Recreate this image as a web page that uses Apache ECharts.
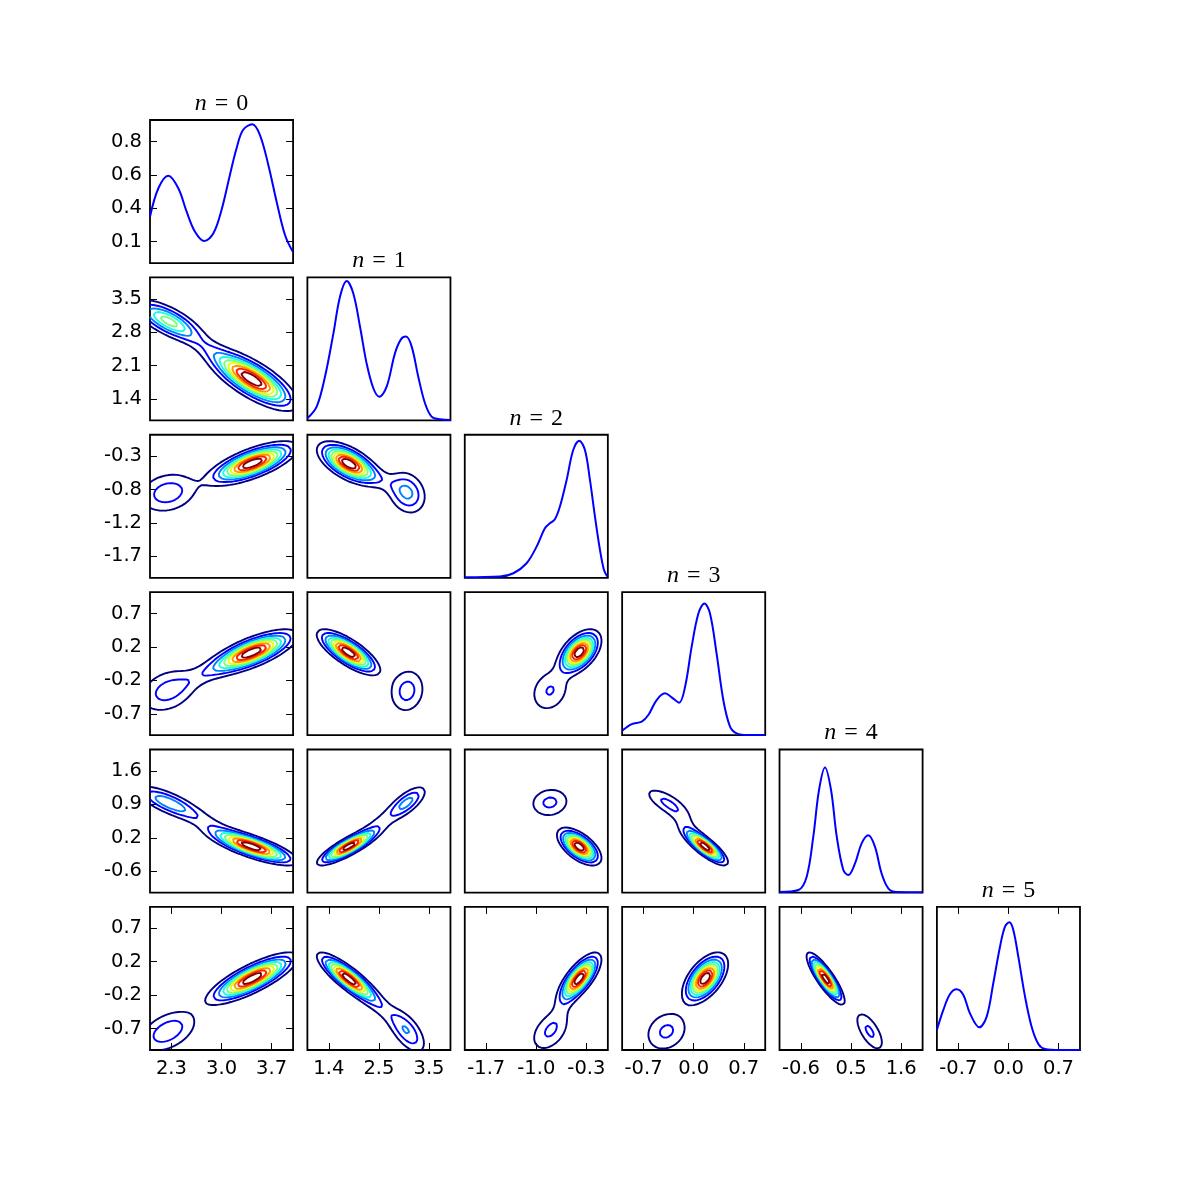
<!DOCTYPE html>
<html><head><meta charset="utf-8">
<script src="https://cdn.jsdelivr.net/npm/echarts@6/dist/echarts.min.js"></script>
<style>html,body{margin:0;padding:0;background:#fff}#c{width:1200px;height:1200px}</style>
</head><body><div id="c"></div>
<script>
// ---------------- data ----------------
const titles = ['0', '1', '2', '3', '4', '5'];
const varMin = [2.0, 0.97, -2.0, -1.0, -1.02, -1.0];
const varMax = [4.0, 3.97, 0.0, 1.0, 2.06, 1.0];
const xTickLabels = [['2.3','3.0','3.7'], ['1.4','2.5','3.5'], ['-1.7','-1.0','-0.3'], ['-0.7','0.0','0.7'], ['-0.6','0.5','1.6'], ['-0.7','0.0','0.7']];
const yTickLabels = [['0.1','0.4','0.6','0.8'], ['1.4','2.1','2.8','3.5'], ['-1.7','-1.2','-0.8','-0.3'], ['-0.7','-0.2','0.2','0.7'], ['-0.6','0.2','0.9','1.6'], ['-0.7','-0.2','0.2','0.7']];
const xTickFrac = [0.15, 0.5, 0.85];
const yTickFrac = [0.15, 0.38333, 0.61667, 0.85];

// diagonal (1D) density curves
const diagX0 = [2.0, 2.117, 2.256, 2.396, 2.512, 2.629, 2.76, 2.886, 3.0, 3.117, 3.21, 3.30, 3.43, 3.537, 3.654, 3.77, 3.887, 3.995];
const diagY0 = [0.324, 0.523, 0.611, 0.523, 0.359, 0.219, 0.154, 0.208, 0.371, 0.616, 0.802, 0.93, 0.97, 0.895, 0.686, 0.429, 0.196, 0.08];
const diagX1 = [0.97, 1.165, 1.339, 1.516, 1.654, 1.795, 1.933, 2.074, 2.212, 2.353, 2.479, 2.632, 2.806, 2.932, 3.037, 3.157, 3.295, 3.436, 3.574, 3.751, 3.97];
const diagY1 = [0.015, 0.097, 0.306, 0.609, 0.865, 0.974, 0.888, 0.655, 0.399, 0.225, 0.166, 0.236, 0.469, 0.567, 0.586, 0.516, 0.306, 0.12, 0.027, 0.008, 0.003];
const diagX2 = [-2.0, -1.506, -1.32, -1.136, -0.996, -0.88, -0.81, -0.74, -0.67, -0.576, -0.484, -0.40, -0.32, -0.25, -0.18, -0.11, -0.054, -0.008];
const diagY2 = [0.004, 0.009, 0.032, 0.102, 0.218, 0.346, 0.381, 0.409, 0.498, 0.684, 0.893, 0.959, 0.893, 0.684, 0.428, 0.195, 0.055, 0.009];
const diagX3 = [-1.0, -0.866, -0.726, -0.634, -0.518, -0.4, -0.308, -0.204, -0.12, -0.028, 0.066, 0.15, 0.228, 0.32, 0.414, 0.508, 0.6, 0.764, 1.0];
const diagY3 = [0.032, 0.078, 0.095, 0.141, 0.246, 0.293, 0.265, 0.227, 0.339, 0.619, 0.851, 0.921, 0.851, 0.572, 0.246, 0.06, 0.013, 0.001, 0.001];
const diagX4 = [-1.02, -0.613, -0.435, -0.293, -0.17, -0.041, 0.089, 0.212, 0.354, 0.461, 0.606, 0.748, 0.893, 1.034, 1.176, 1.321, 1.499, 2.06];
const diagY4 = [0.004, 0.018, 0.111, 0.391, 0.717, 0.875, 0.717, 0.391, 0.158, 0.123, 0.205, 0.344, 0.4, 0.321, 0.135, 0.03, 0.004, 0.002];
const diagX5 = [-1.0, -0.91, -0.816, -0.724, -0.63, -0.538, -0.406, -0.304, -0.212, -0.118, -0.048, 0.012, 0.068, 0.138, 0.232, 0.324, 0.418, 0.512, 0.72, 1.0];
const diagY5 = [0.14, 0.28, 0.391, 0.424, 0.384, 0.256, 0.158, 0.233, 0.466, 0.722, 0.862, 0.892, 0.839, 0.652, 0.373, 0.163, 0.042, 0.007, 0, 0];

// two-component model of the 2D densities
const mixWeights = [0.72, 0.28];
const meanMain = [3.43, 1.83, -0.40, 0.16, -0.03, 0.00];
const meanSec  = [2.25, 3.06, -0.81, -0.38, 0.92, -0.74];
const sdMain = [0.30, 0.31, 0.145, 0.15, 0.19, 0.17];
const sdSec  = [0.26, 0.24, 0.18, 0.20, 0.21, 0.19];
// pairs: (0,1)(0,2)(0,3)(0,4)(0,5)(1,2)(1,3)(1,4)(1,5)(2,3)(2,4)(2,5)(3,4)(3,5)(4,5)
const corrMain = [-0.75, 0.70, 0.72, -0.78, 0.80, -0.60, -0.76, 0.85, -0.85, 0.50, -0.60, 0.72, -0.82, 0.55, -0.85];
const corrSec  = [-0.70, 0.20, 0.30, -0.74, 0.45, -0.20, 0.10, 0.70, -0.60, 0.20, 0.10, 0.40, -0.70, 0.20, -0.65];
// thin density ridge joining the two clusters (peak, relative to the main peak)
const bridgeLevel = [0.13, 0.0, 0.12, 0.13, 0.0, 0.11, 0.0, 0.13, 0.13, 0.0, 0.0, 0.07, 0.12, 0.0, 0.0];
const levelFractions = [0.1, 0.2, 0.3, 0.4, 0.5, 0.6, 0.7, 0.8, 0.9];

// ---------------- helpers ----------------
const diagX = [diagX0, diagX1, diagX2, diagX3, diagX4, diagX5];
const diagY = [diagY0, diagY1, diagY2, diagY3, diagY4, diagY5];
function pairIndex(i, j) { let k = 0; for (let a = 0; a < 6; a++) for (let b = a + 1; b < 6; b++) { if (a === i && b === j) return k; k++; } return -1; }
function g2(x, y, mx, my, sx, sy, r) {
  const dx = (x - mx) / sx, dy = (y - my) / sy;
  const q = (dx * dx - 2 * r * dx * dy + dy * dy) / (1 - r * r);
  return Math.exp(-0.5 * q) / (2 * Math.PI * sx * sy * Math.sqrt(1 - r * r));
}
function jet(t) {
  function seg(pts) { for (let k = 1; k < pts.length; k++) { if (t <= pts[k][0]) { const a = pts[k-1], b = pts[k]; return a[1] + (b[1]-a[1]) * (t - a[0]) / (b[0]-a[0]); } } return pts[pts.length-1][1]; }
  const r = seg([[0,0],[0.35,0],[0.66,1],[0.89,1],[1,0.5]]);
  const g = seg([[0,0],[0.125,0],[0.375,1],[0.64,1],[0.91,0],[1,0]]);
  const b = seg([[0,0.5],[0.11,1],[0.34,1],[0.65,0],[1,0]]);
  return 'rgb(' + Math.round(r*255) + ',' + Math.round(g*255) + ',' + Math.round(b*255) + ')';
}
function contourLines(f, xs, ys, level) {
  const nx = xs.length, ny = ys.length, V = nx * ny;
  const pts = new Map(), adj = new Map();
  function ep(id, i0, j0, i1, j1) {
    if (!pts.has(id)) {
      const a = f[j0*nx+i0], b = f[j1*nx+i1];
      const t = (level - a) / (b - a);
      pts.set(id, [xs[i0] + t * (xs[i1] - xs[i0]), ys[j0] + t * (ys[j1] - ys[j0])]);
    }
    return id;
  }
  function link(a, b) {
    if (!adj.has(a)) adj.set(a, []);
    if (!adj.has(b)) adj.set(b, []);
    adj.get(a).push(b); adj.get(b).push(a);
  }
  for (let j = 0; j < ny - 1; j++) for (let i = 0; i < nx - 1; i++) {
    const v0 = f[j*nx+i], v1 = f[j*nx+i+1], v2 = f[(j+1)*nx+i+1], v3 = f[(j+1)*nx+i];
    const c = (v0 > level ? 1 : 0) | (v1 > level ? 2 : 0) | (v2 > level ? 4 : 0) | (v3 > level ? 8 : 0);
    if (c === 0 || c === 15) continue;
    const B = () => ep(j*nx+i, i, j, i+1, j);
    const R = () => ep(V + j*nx+i+1, i+1, j, i+1, j+1);
    const T = () => ep((j+1)*nx+i, i, j+1, i+1, j+1);
    const L = () => ep(V + j*nx+i, i, j, i, j+1);
    if (c === 5 || c === 10) {
      const center = (v0 + v1 + v2 + v3) / 4 > level;
      if ((c === 5) === center) { link(B(), R()); link(T(), L()); }
      else { link(L(), B()); link(R(), T()); }
      continue;
    }
    const e = [];
    if ((c & 1) !== ((c >> 1) & 1)) e.push(B());
    if (((c >> 1) & 1) !== ((c >> 2) & 1)) e.push(R());
    if (((c >> 2) & 1) !== ((c >> 3) & 1)) e.push(T());
    if (((c >> 3) & 1) !== (c & 1)) e.push(L());
    if (e.length === 2) link(e[0], e[1]);
  }
  const visited = new Set(), lines = [];
  function walk(start) {
    const line = [];
    let prev = -1, cur = start, last = start;
    while (cur !== undefined && !visited.has(cur)) {
      visited.add(cur); line.push(pts.get(cur)); last = cur;
      let next;
      for (const n of adj.get(cur)) if (n !== prev && !visited.has(n)) { next = n; break; }
      prev = cur; cur = next;
    }
    if (adj.get(start).length === 2 && adj.get(last).indexOf(start) >= 0 && line.length > 2) line.push(pts.get(start));
    lines.push(line);
  }
  for (const [id, nb] of adj) if (nb.length === 1 && !visited.has(id)) walk(id);
  for (const [id] of adj) if (!visited.has(id)) walk(id);
  return lines;
}

// ---------------- layout ----------------
const L0 = 150, T0 = 120, STEP = 157.38, SZ = 143.08;
const grids = [], xAxes = [], yAxes = [], series = [], graphics = [];
function tickVals(fr, lo, hi) { return fr.map(f => lo + f * (hi - lo)); }
function makeFmt(vals, labels) {
  return function (v) { let b = 0, bd = Infinity; vals.forEach((t, k) => { const d = Math.abs(t - v); if (d < bd) { bd = d; b = k; } }); return labels[b]; };
}
function axisCfg(gi, lo, hi, pos, showTicks, showLabels, vals, labs, isX) {
  return {
    type: 'value', gridIndex: gi, min: lo, max: hi, position: pos,
    splitLine: { show: false }, axisLine: { show: false, onZero: false },
    axisTick: { show: showTicks, inside: true, length: 7, customValues: vals, lineStyle: { color: '#000', width: 1 } },
    axisLabel: { show: showLabels, customValues: vals, formatter: labs ? makeFmt(vals, labs) : null,
      margin: isX ? 9 : 8, fontFamily: 'DejaVu Sans', fontSize: 19.5, color: '#000' }
  };
}
for (let r = 0; r < 6; r++) for (let c = 0; c <= r; c++) {
  const gi = grids.length;
  const gl = L0 + STEP * c, gt = T0 + STEP * r;
  grids.push({ left: gl, top: gt, width: SZ, height: SZ, show: true, borderColor: '#000', borderWidth: 1.8, backgroundColor: 'rgba(0,0,0,0)', containLabel: false });
  const diag = r === c;
  const xlo = varMin[c], xhi = varMax[c];
  const ylo = diag ? 0 : varMin[r], yhi = diag ? 1 : varMax[r];
  const bottom = r === 5, left = c === 0;
  const xv = tickVals(xTickFrac, xlo, xhi), yv = tickVals(yTickFrac, ylo, yhi);
  const xi = xAxes.length;
  xAxes.push(axisCfg(gi, xlo, xhi, 'bottom', bottom, bottom, xv, xTickLabels[c], true));
  if (bottom) xAxes.push(axisCfg(gi, xlo, xhi, 'top', true, false, xv, null, true));
  const yi = yAxes.length;
  yAxes.push(axisCfg(gi, ylo, yhi, 'left', left, left, yv, yTickLabels[r], false));
  if (left) yAxes.push(axisCfg(gi, ylo, yhi, 'right', true, false, yv, null, false));

  if (diag) {
    series.push({ type: 'line', xAxisIndex: xi, yAxisIndex: yi, data: diagX[c].map((x, k) => [x, diagY[c][k]]),
      smooth: 0.35, symbol: 'none', silent: true, lineStyle: { color: '#0000ff', width: 2 }, z: 3 });
    graphics.push({ type: 'text', x: gl + SZ / 2, y: gt - 16.5, silent: true,
      style: { text: '{n|n}{e|=}{d|' + titles[c] + '}', align: 'center', verticalAlign: 'middle', textAlign: 'center', textVerticalAlign: 'middle',
        rich: { n: { fontFamily: 'Liberation Serif', fontStyle: 'italic', fontSize: 24, fill: '#000' },
                e: { fontFamily: 'Liberation Serif', fontSize: 24, padding: [0, 8, 0, 8], fill: '#000' },
                d: { fontFamily: 'Liberation Serif', fontSize: 24, fill: '#000' } } } });
  } else {
    const p = pairIndex(c, r);
    const n = 121, xs = [], ys = [], f = new Float64Array(n * n);
    for (let k = 0; k < n; k++) { xs.push(xlo + (xhi - xlo) * k / (n - 1)); ys.push(ylo + (yhi - ylo) * k / (n - 1)); }
    // ridge between the clusters, in panel-fraction units
    const wx = xhi - xlo, wy = yhi - ylo;
    const mx = (meanMain[c] + meanSec[c]) / 2, my = (meanMain[r] + meanSec[r]) / 2;
    const ddx = (meanSec[c] - meanMain[c]) / wx, ddy = (meanSec[r] - meanMain[r]) / wy;
    const dlen = Math.hypot(ddx, ddy), ux = ddx / dlen, uy = ddy / dlen;
    const La = 0.26 * dlen, Wb = 0.045;
    const mainPeak = mixWeights[0] / (2 * Math.PI * sdMain[c] * sdMain[r] * Math.sqrt(1 - corrMain[p] * corrMain[p]));
    let fmax = 0;
    for (let j = 0; j < n; j++) for (let i = 0; i < n; i++) {
      let v = mixWeights[0] * g2(xs[i], ys[j], meanMain[c], meanMain[r], sdMain[c], sdMain[r], corrMain[p])
            + mixWeights[1] * g2(xs[i], ys[j], meanSec[c], meanSec[r], sdSec[c], sdSec[r], corrSec[p]);
      if (bridgeLevel[p] > 0) {
        const bx = (xs[i] - mx) / wx, by = (ys[j] - my) / wy;
        const a = bx * ux + by * uy, b = -bx * uy + by * ux;
        v += bridgeLevel[p] * mainPeak * Math.exp(-0.5 * (a * a / (La * La) + b * b / (Wb * Wb)));
      }
      f[j * n + i] = v; if (v > fmax) fmax = v;
    }
    levelFractions.forEach((lf, li) => {
      const col = jet(li / (levelFractions.length - 1));
      contourLines(f, xs, ys, lf * fmax).forEach(line => {
        series.push({ type: 'line', xAxisIndex: xi, yAxisIndex: yi, data: line, symbol: 'none', silent: true,
          lineStyle: { color: col, width: 1.9 }, z: 3 });
      });
    });
  }
}
const chart = echarts.init(document.getElementById('c'), null, { width: 1200, height: 1200 });
chart.setOption({ animation: false, backgroundColor: '#fff', grid: grids, xAxis: xAxes, yAxis: yAxes, series: series, graphic: graphics });
</script></body></html>
